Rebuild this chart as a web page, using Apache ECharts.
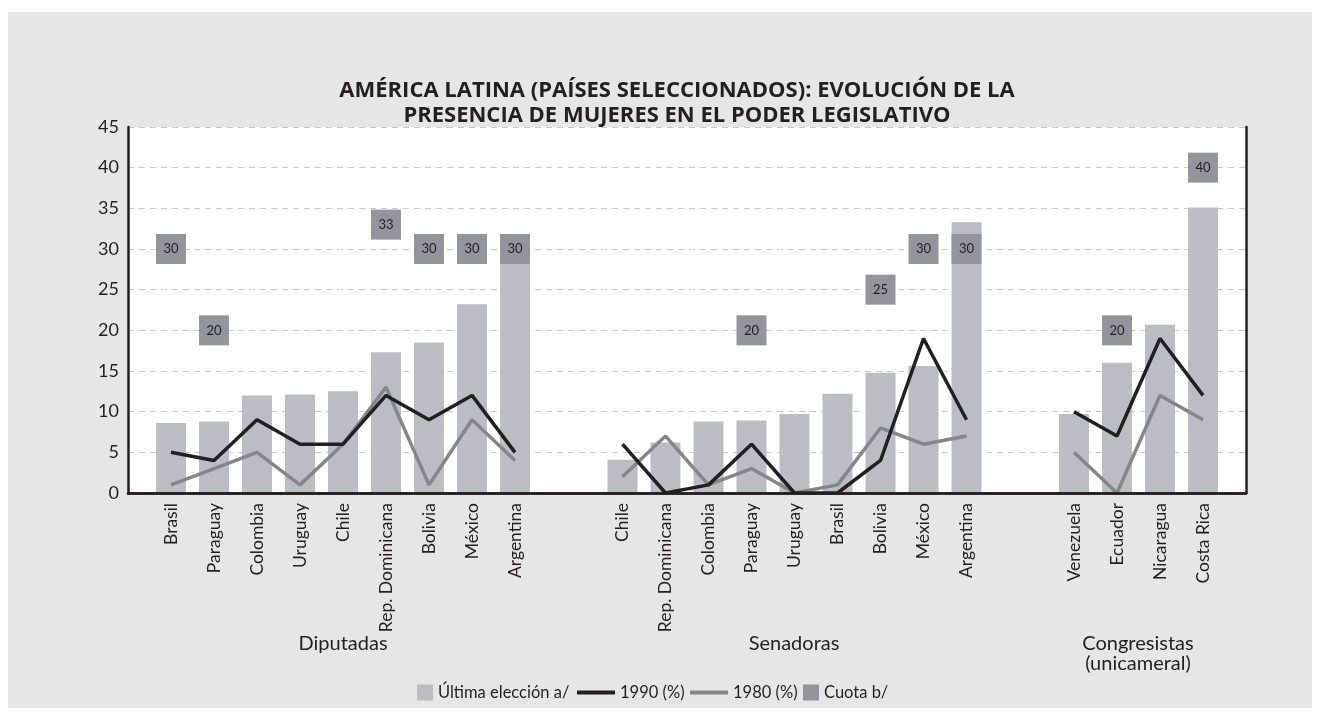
<html>
<head>
<meta charset="utf-8" />
<title>Mujeres en el poder legislativo</title>
<script src="https://cdn.jsdelivr.net/npm/echarts@6/dist/echarts.min.js"></script>
<style>
	html, body { margin: 0; padding: 0; background: #fff; }
	#main { width: 1320px; height: 720px; }
</style>
</head>
<body>
<div id="main"></div>
<script type="text/javascript">
// grupos y paises
var grupos = ['Diputadas', 'Senadoras', 'Congresistas\n(unicameral)'];
var paisesDip = ['Brasil', 'Paraguay', 'Colombia', 'Uruguay', 'Chile', 'Rep. Dominicana', 'Bolivia', 'México', 'Argentina'];
var paisesSen = ['Chile', 'Rep. Dominicana', 'Colombia', 'Paraguay', 'Uruguay', 'Brasil', 'Bolivia', 'México', 'Argentina'];
var paisesCon = ['Venezuela', 'Ecuador', 'Nicaragua', 'Costa Rica'];

// Última elección a/
var ultimaDip = [8.6, 8.8, 12.0, 12.1, 12.5, 17.3, 18.5, 23.2, 30.7];
var ultimaSen = [4.1, 6.2, 8.8, 8.9, 9.7, 12.2, 14.8, 15.6, 33.3];
var ultimaCon = [9.7, 16.0, 20.7, 35.1];
// 1990 (%)
var a1990Dip = [5, 4, 9, 6, 6, 12, 9, 12, 5];
var a1990Sen = [6, 0, 1, 6, 0, 0, 4, 19, 9];
var a1990Con = [10, 7, 19, 12];
// 1980 (%)
var a1980Dip = [1, 3, 5, 1, 6, 13, 1, 9, 4];
var a1980Sen = [2, 7, 1, 3, 0, 1, 8, 6, 7];
var a1980Con = [5, 0, 12, 9];
// Cuota b/
var cuotaDip = [30, 20, null, null, null, 33, 30, 30, 30];
var cuotaSen = [null, null, null, 20, null, null, 25, 30, 30];
var cuotaCon = [null, 20, null, 40];

var yTicks = [0, 5, 10, 15, 20, 25, 30, 35, 40, 45];

// el eje usa medias posiciones: cada pais ocupa 2, con 2.5 posiciones de separacion entre grupos
var inicio = [2, 23, 44];
var total = 53;
var paises = [paisesDip, paisesSen, paisesCon];
var cats = [];
for (var i = 0; i < total; i++) cats.push('');
function vacio() { var a = []; for (var i = 0; i < total; i++) a.push(null); return a; }
function colocar(arr, g, vals) {
	for (var k = 0; k < vals.length; k++) arr[inicio[g] + 2 * k] = vals[k];
	return arr;
}
for (var g = 0; g < 3; g++) colocar(cats, g, paises[g]);

var barras = vacio();
colocar(barras, 0, ultimaDip); colocar(barras, 1, ultimaSen); colocar(barras, 2, ultimaCon);
var cuotas = vacio();
colocar(cuotas, 0, cuotaDip); colocar(cuotas, 1, cuotaSen); colocar(cuotas, 2, cuotaCon);

var l1990 = [a1990Dip, a1990Sen, a1990Con];
var l1980 = [a1980Dip, a1980Sen, a1980Con];

var fuente = 'Lato, "Open Sans", sans-serif';
var negro = '#231f20';
var series = [
	{
		name: 'Última elección a/',
		type: 'bar',
		data: barras,
		barWidth: 30,
		itemStyle: { color: '#bcbdc0' },
		z: 2
	}
];
// una serie por grupo para que las lineas se corten entre grupos
for (var g = 0; g < 3; g++) {
	series.push({
		name: '1990 (%)',
		type: 'line',
		data: colocar(vacio(), g, l1990[g]),
		connectNulls: true,
		symbol: 'none',
		lineStyle: { color: negro, width: 3.5 },
		itemStyle: { color: negro },
		z: 4
	});
	series.push({
		name: '1980 (%)',
		type: 'line',
		data: colocar(vacio(), g, l1980[g]),
		connectNulls: true,
		symbol: 'none',
		lineStyle: { color: '#858688', width: 3.5 },
		itemStyle: { color: '#858688' },
		z: 3
	});
}
series.push({
	name: 'Cuota b/',
	type: 'scatter',
	data: cuotas,
	symbol: 'rect',
	symbolSize: 30,
	itemStyle: { color: '#939598', opacity: 1 },
	label: {
		show: true,
		position: 'inside',
		color: negro,
		fontSize: 13,
		fontFamily: fuente,
		formatter: function (p) { return p.value; }
	},
	z: 5
});

// leyenda: una por elemento para poder separar cuadrados y lineas
function leyenda(nombre, izq, ancho, icono) {
	return {
		data: [{ name: nombre, icon: icono }],
		left: izq,
		top: 684,
		padding: 0,
		itemWidth: ancho,
		itemHeight: 16,
		itemGap: 0,
		textStyle: { fontFamily: fuente, fontSize: 16.5, color: negro }
	};
}
var cuadro = 'path://M0,0H10V10H0Z';
var linea = 'path://M0,0H40V4H0Z';

var myChart = echarts.init(document.getElementById('main'));
var option = {
	backgroundColor: '#ffffff',
	animation: false,
	title: {
		text: 'AMÉRICA LATINA (PAÍSES SELECCIONADOS): EVOLUCIÓN DE LA\nPRESENCIA DE MUJERES EN EL PODER LEGISLATIVO',
		left: 672,
		top: 73,
		textAlign: 'center',
		textStyle: {
			fontFamily: '"Open Sans", Lato, sans-serif',
			fontSize: 22,
			fontWeight: 'bold',
			color: negro,
			lineHeight: 25
		}
	},
	legend: [
		leyenda('Última elección a/', 417, 16, cuadro),
		leyenda('1990 (%)', 577, 38, linea),
		leyenda('1980 (%)', 690, 38, linea),
		leyenda('Cuota b/', 803, 16, cuadro)
	],
	grid: {
		left: 128,
		right: 74,
		top: 127,
		bottom: 227,
		show: true,
		backgroundColor: '#ffffff',
		borderWidth: 0
	},
	graphic: [
		{ type: 'rect', z: -10, shape: { x: 8, y: 12, width: 1304, height: 696 }, style: { fill: '#e6e6e6' } },
		{ type: 'text', x: 343, y: 634, style: { text: grupos[0], font: '20px ' + fuente, fill: negro, align: 'center' } },
		{ type: 'text', x: 794, y: 634, style: { text: grupos[1], font: '20px ' + fuente, fill: negro, align: 'center' } },
		{ type: 'text', x: 1138, y: 634, style: { text: grupos[2], font: '20px ' + fuente, fill: negro, align: 'center', lineHeight: 20 } }
	],
	xAxis: [
		{
			type: 'category',
			data: cats,
			boundaryGap: false,
			axisLine: { lineStyle: { color: negro, width: 2.5 } },
			axisTick: { show: false },
			axisLabel: {
				interval: 0,
				rotate: 90,
				margin: 10,
				fontFamily: fuente,
				fontSize: 17.5,
				color: negro
			},
			z: 10
		},
		{
			// borde superior del marco
			type: 'category',
			position: 'top',
			data: cats,
			boundaryGap: false,
			axisLine: { lineStyle: { color: negro, width: 2.5 } },
			axisTick: { show: false },
			axisLabel: { show: false },
			z: 10
		}
	],
	yAxis: [
		{
			type: 'value',
			min: yTicks[0],
			max: yTicks[yTicks.length - 1],
			interval: yTicks[1] - yTicks[0],
			axisLine: { show: true, lineStyle: { color: negro, width: 2.5 } },
			axisTick: { show: false },
			axisLabel: { fontFamily: fuente, fontSize: 18, color: negro, margin: 9 },
			splitLine: { lineStyle: { color: '#c8c8c8', type: [6, 5], width: 1 } }
		},
		{
			// borde derecho del marco
			type: 'value',
			position: 'right',
			min: yTicks[0],
			max: yTicks[yTicks.length - 1],
			interval: yTicks[1] - yTicks[0],
			axisLine: { show: true, lineStyle: { color: negro, width: 2.5 } },
			axisTick: { show: false },
			axisLabel: { show: false },
			splitLine: { show: false },
			z: 10
		}
	],
	series: series
};
myChart.setOption(option);
</script>
</body>
</html>
